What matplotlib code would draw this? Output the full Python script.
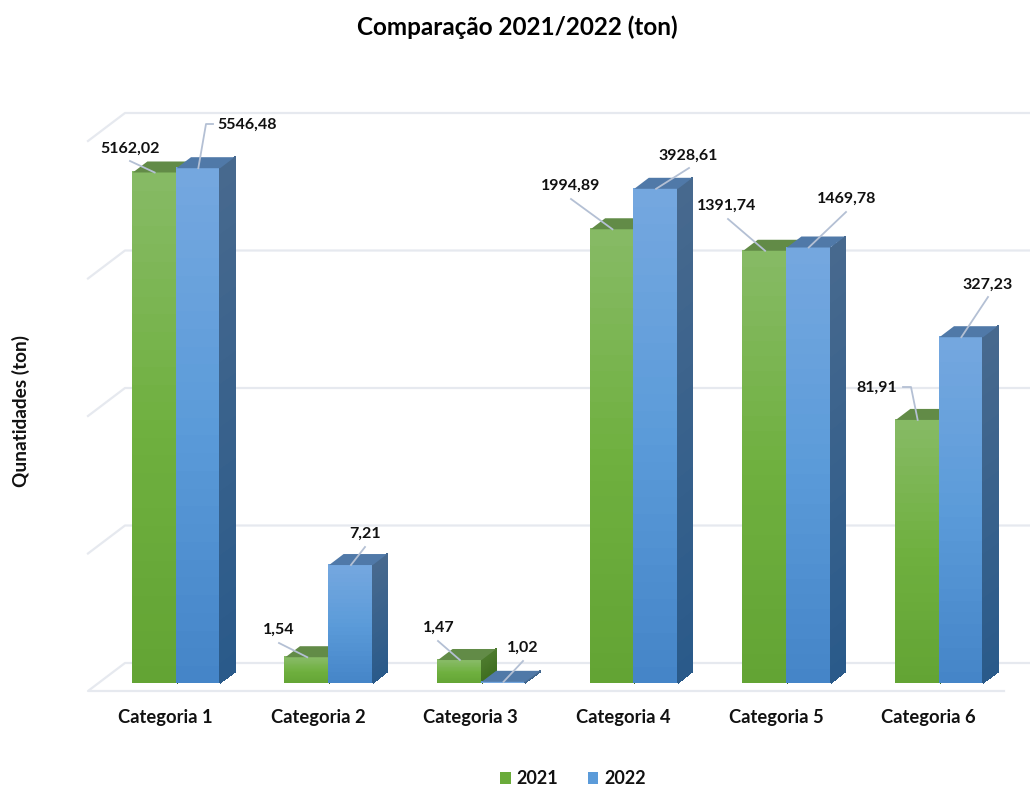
import numpy as np
import matplotlib
matplotlib.use("Agg")
import matplotlib.pyplot as plt
from matplotlib.colors import LinearSegmentedColormap
from matplotlib.patches import Polygon, Patch
from matplotlib.transforms import IdentityTransform

categories = ["Categoria 1", "Categoria 2", "Categoria 3", "Categoria 4", "Categoria 5", "Categoria 6"]
values_2021 = [5162.02, 1.54, 1.47, 1994.89, 1391.74, 81.91]
values_2022 = [5546.48, 7.21, 1.02, 3928.61, 1469.78, 327.23]
labels_2021 = ["5162,02", "1,54", "1,47", "1994,89", "1391,74", "81,91"]
labels_2022 = ["5546,48", "7,21", "1,02", "3928,61", "1469,78", "327,23"]
grid_values = [1, 10, 100, 1000, 10000]

W, H = 1030, 786
DEPTH_X, DEPTH_Y = 14.5, 11  # 3d bar depth in px
plt.rcParams["font.family"] = ["Lato", "DejaVu Sans"]

fig = plt.figure(figsize=(W / 100, H / 100), dpi=100, facecolor="white")
# axes box in px: value 1 sits at y=683, 10000 at y=133
ax = fig.add_axes([100.2 / W, (H - 683) / H, 915.6 / W, 550 / H])
ax.set_yscale("log")
ax.set_xlim(-0.5, 5.5)
ax.set_ylim(1, 10000)
ax.patch.set_alpha(0)
for s in ax.spines.values():
    s.set_visible(False)
ax.tick_params(left=False, bottom=False, which="both", labelleft=False)
ax.minorticks_off()

x = np.arange(6)
width = 0.286

# category labels sit about 11 px left of the bar pair in the original
ax.set_xticks(x - 11 / 152.6, categories, fontsize=13.2, fontweight="bold", color="#111111")
ax.tick_params(axis="x", pad=15)


def px(xv, yv):
    # data -> figure pixels, measured from the bottom left
    return ax.transData.transform((xv, yv))


# walls / gridlines
grid_color = "#E6E9EF"
for g in grid_values:
    gx, gy = px(0, g)
    front_y = gy - 8
    back_y = gy + 20
    if g > grid_values[0]:
        fig.add_artist(plt.Line2D([88, 125, W], [front_y, back_y, back_y], color=grid_color, lw=1.6,
                                  transform=IdentityTransform(), zorder=0))
    else:
        fig.add_artist(plt.Line2D([W, 125, 88, 1004], [back_y, back_y, front_y, front_y], color=grid_color, lw=1.6,
                                  transform=IdentityTransform(), zorder=0))

green_face = LinearSegmentedColormap.from_list("gf", ["#63A434", "#6FB03F", "#86BA64"])
blue_face = LinearSegmentedColormap.from_list("bf", ["#4585C8", "#5B9BD9", "#74A7DF"])
green_side = LinearSegmentedColormap.from_list("gs", ["#3E6D1F", "#4C7A2C"])
blue_side = LinearSegmentedColormap.from_list("bs", ["#2A5A8A", "#47698E"])


def draw_bar(xc, v, face, side, top_color, mid_color, z):
    x0, x1 = xc - width / 2, xc + width / 2
    ax.bar(xc, v - 1, width, bottom=1, color=mid_color, zorder=z)
    # vertical gradient on the front face
    ys = np.geomspace(1, v, 30)
    grad = np.linspace(0, 1, 29).reshape(-1, 1)
    ax.pcolormesh([x0, x1], ys, grad, cmap=face, vmin=0, vmax=1, zorder=z + 0.1,
                  edgecolors="face", linewidth=0.2)
    (l, b), (r, t) = px(x0, 1), px(x1, v)
    # side face
    n = 24
    yy = np.linspace(b, t, n + 1)
    mx = np.array([[r, r + DEPTH_X]] * (n + 1))
    my = np.column_stack([yy, yy + DEPTH_Y])
    ax.pcolormesh(mx, my, np.linspace(0, 1, n).reshape(-1, 1), cmap=side, vmin=0, vmax=1,
                  transform=IdentityTransform(), zorder=z + 0.2, edgecolors="face", linewidth=0.2,
                  clip_on=False)
    # top face
    ax.add_patch(Polygon([(l, t), (r, t), (r + DEPTH_X, t + DEPTH_Y), (l + DEPTH_X, t + DEPTH_Y)],
                         closed=True, facecolor=top_color, edgecolor="none",
                         transform=IdentityTransform(), zorder=z + 0.2, clip_on=False))


for i in x:
    draw_bar(i - width / 2, values_2021[i], green_face, green_side, "#628B47", "#6FB03F", 2 + i * 2)
    draw_bar(i + width / 2, values_2022[i], blue_face, blue_side, "#5079A8", "#5B9BD9", 3 + i * 2)

# keep the scale after pixel meshes
ax.set_xlim(-0.5, 5.5)
ax.set_ylim(1, 10000)

# label centre and leader path in image px (y down), bar end added from the data
label_pos_2021 = [(130, 149), (279, 630), (439, 628), (571, 186), (727, 206), (877, 388)]
leader_2021 = [[(130, 161)], [(279, 643)], [(438, 641)], [(571, 199)], [(728, 219)], [(911, 387), (903, 387)]]
label_pos_2022 = [(247, 125), (365, 534), (523, 648), (688, 156), (847, 199), (988, 285)]
leader_2022 = [[(206, 124), (213, 124)], [(365, 547)], [(523, 661)], [(689, 168)], [(846, 212)], [(988, 297)]]

for xs, vals, labs, pos, lead in [(x - width / 2, values_2021, labels_2021, label_pos_2021, leader_2021),
                                  (x + width / 2, values_2022, labels_2022, label_pos_2022, leader_2022)]:
    for xc, v, lab, p, path in zip(xs, vals, labs, pos, lead):
        sx, sy = px(xc, v)
        lx = [sx] + [q[0] for q in path]
        ly = [sy] + [H - q[1] for q in path]
        fig.add_artist(plt.Line2D(lx, ly, color="#B4C0D4", lw=1.3, transform=IdentityTransform(), zorder=30))
        fig.text(p[0] / W, 1 - p[1] / H, lab, ha="center", va="center", fontsize=11.5, fontweight="bold",
                 color="#111111", zorder=31)

fig.text(517.5 / W, 1 - 27 / H, "Comparação 2021/2022 (ton)", ha="center", va="center", fontsize=17.5,
         fontweight="bold", color="#000000")
fig.text(21 / W, 1 - 411 / H, "Qunatidades (ton)", rotation=90, ha="center", va="center", fontsize=13.7,
         fontweight="bold", color="#111111")

handles = [Patch(facecolor="#6AAB3A", linewidth=0, label="2021"), Patch(facecolor="#5B9BD9", linewidth=0, label="2022")]
leg = fig.legend(handles=handles, ncol=2, loc="center", bbox_to_anchor=(573 / W, 1 - 779 / H), frameon=False,
                 prop={"size": 13, "weight": "bold"}, handlelength=0.6, handleheight=0.6, handletextpad=0.35,
                 columnspacing=1.6)
for t in leg.get_texts():
    t.set_color("#111111")

fig.savefig("out.png", dpi=100)
